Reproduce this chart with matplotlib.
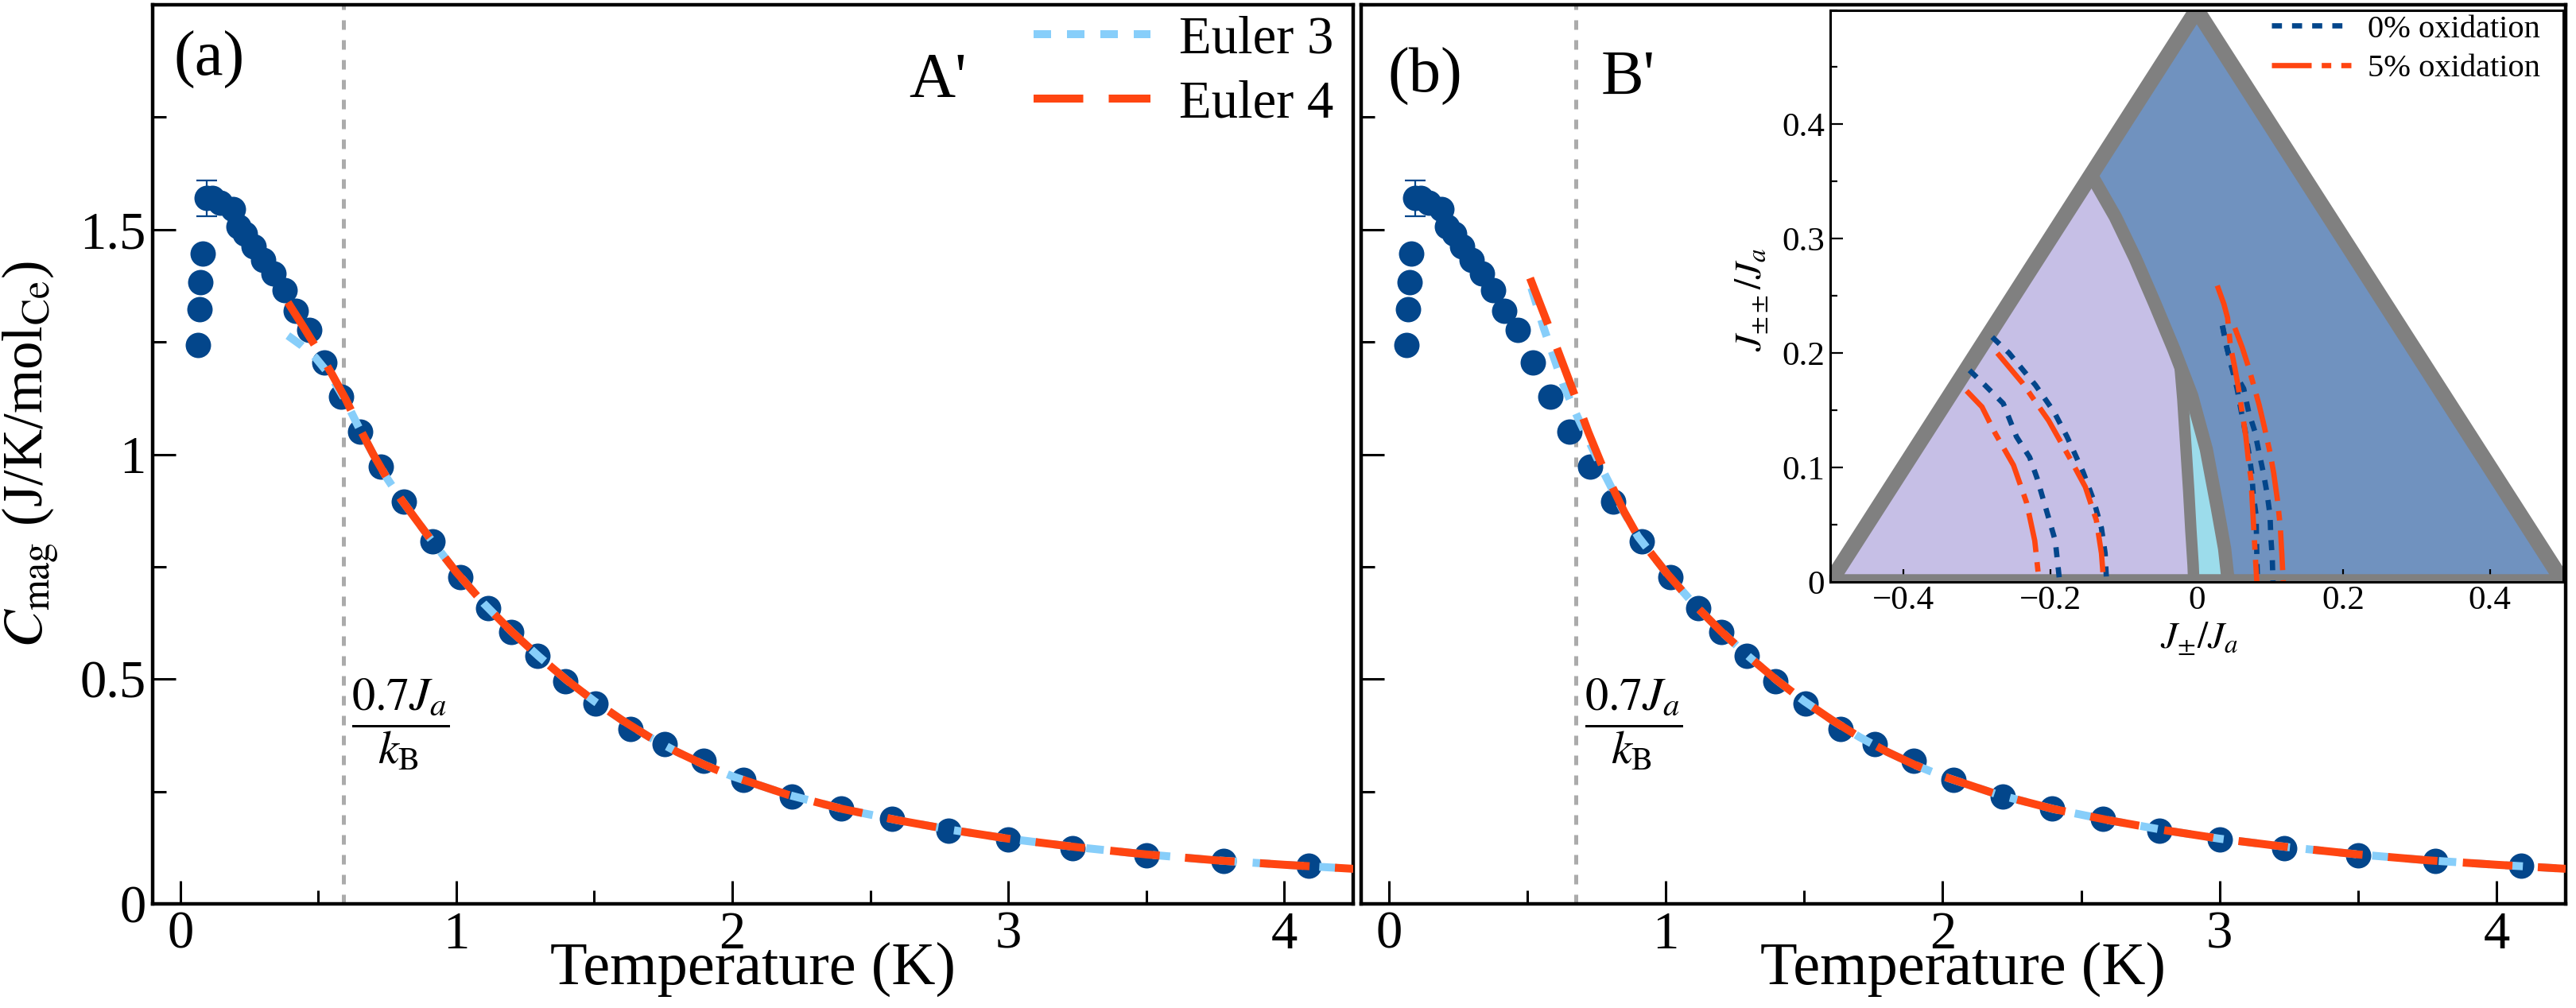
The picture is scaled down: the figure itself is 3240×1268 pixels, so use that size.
import matplotlib
matplotlib.use('Agg')
import matplotlib.pyplot as plt
from matplotlib.ticker import FixedLocator, FixedFormatter, MultipleLocator

plt.rcParams['font.family'] = ['Liberation Serif', 'DejaVu Serif']
plt.rcParams['mathtext.fontset'] = 'stix'
plt.rcParams['axes.unicode_minus'] = True

# ---------------- data ----------------
T_data = [0.064, 0.069, 0.074, 0.081, 0.095, 0.115, 0.145, 0.19, 0.21, 0.235,
          0.265, 0.30, 0.337, 0.377, 0.418, 0.467, 0.521, 0.583, 0.652, 0.726,
          0.81, 0.913, 1.016, 1.116, 1.20, 1.293, 1.396, 1.505, 1.63, 1.755,
          1.895, 2.04, 2.216, 2.394, 2.58, 2.783, 3.0, 3.234, 3.5, 3.78, 4.09]
C_data = [1.244, 1.323, 1.383, 1.447, 1.570, 1.570, 1.560, 1.546, 1.506, 1.490,
          1.462, 1.433, 1.403, 1.365, 1.319, 1.276, 1.205, 1.129, 1.051, 0.973,
          0.894, 0.807, 0.726, 0.657, 0.605, 0.551, 0.495, 0.446, 0.389, 0.356,
          0.318, 0.276, 0.239, 0.212, 0.190, 0.163, 0.143, 0.124, 0.108, 0.095, 0.085]
T_err = [0.095]
C_err = [1.570]
err_val = [0.04]

# Fits, panel (a)
Ta_euler3 = [0.39, 0.44, 0.49, 0.55, 0.60, 0.65, 0.70, 0.75, 0.80, 0.90, 1.0, 1.1,
             1.2, 1.3, 1.4, 1.5, 1.6, 1.7, 1.8, 1.9, 2.0, 2.2, 2.4, 2.6, 2.8, 3.0,
             3.25, 3.5, 3.75, 4.0, 4.25]
Ca_euler3 = [1.264, 1.242, 1.215, 1.170, 1.118, 1.056, 0.999, 0.946, 0.900, 0.817,
             0.738, 0.668, 0.606, 0.550, 0.498, 0.451, 0.409, 0.371, 0.338, 0.309,
             0.284, 0.243, 0.211, 0.186, 0.164, 0.145, 0.126, 0.110, 0.097, 0.087, 0.078]
Ta_euler4 = [0.39, 0.45, 0.50, 0.55, 0.60, 0.65, 0.70, 0.75, 0.80, 0.90, 1.0, 1.1,
             1.2, 1.3, 1.4, 1.5, 1.6, 1.7, 1.8, 1.9, 2.0, 2.2, 2.4, 2.6, 2.8, 3.0,
             3.25, 3.5, 3.75, 4.0, 4.25]
Ca_euler4 = [1.338, 1.280, 1.230, 1.178, 1.122, 1.058, 0.999, 0.946, 0.900, 0.817,
             0.738, 0.668, 0.606, 0.550, 0.498, 0.451, 0.409, 0.371, 0.338, 0.309,
             0.284, 0.243, 0.211, 0.186, 0.164, 0.145, 0.126, 0.110, 0.097, 0.087, 0.078]
# Fits, panel (b)
Tb_euler3 = [0.515, 0.56, 0.63, 0.68, 0.78, 0.85, 0.90, 1.0, 1.1, 1.2, 1.3, 1.4,
             1.5, 1.6, 1.7, 1.8, 1.9, 2.0, 2.2, 2.4, 2.6, 2.8, 3.0, 3.25, 3.5,
             3.75, 4.0, 4.25]
Cb_euler3 = [1.370, 1.280, 1.155, 1.085, 0.955, 0.870, 0.817, 0.738, 0.668, 0.606,
             0.550, 0.498, 0.451, 0.409, 0.371, 0.338, 0.309, 0.284, 0.243, 0.211,
             0.186, 0.164, 0.145, 0.126, 0.110, 0.097, 0.087, 0.078]
Tb_euler4 = [0.51, 0.574, 0.62, 0.666, 0.72, 0.77, 0.85, 0.90, 1.0, 1.1, 1.2, 1.3,
             1.4, 1.5, 1.6, 1.7, 1.8, 1.9, 2.0, 2.2, 2.4, 2.6, 2.8, 3.0, 3.25,
             3.5, 3.75, 4.0, 4.25]
Cb_euler4 = [1.392, 1.290, 1.215, 1.140, 1.050, 0.975, 0.872, 0.817, 0.738, 0.668,
             0.606, 0.550, 0.498, 0.451, 0.409, 0.371, 0.338, 0.309, 0.284, 0.243,
             0.211, 0.186, 0.164, 0.145, 0.126, 0.110, 0.097, 0.087, 0.078]

T_line = [0.59, 0.674]          # 0.7 J_a / k_B for panels a and b
panel_tags = ['(a)', '(b)']
model_tags = ["A'", "B'"]
legend_labels = ['Euler 3', 'Euler 4']

x_ticks = [0, 1, 2, 3, 4]
x_tick_labels = ['0', '1', '2', '3', '4']
y_ticks = [0, 0.5, 1, 1.5]
y_tick_labels = ['0', '0.5', '1', '1.5']

# Inset: phase diagram
tri_x = [-0.5, 0.0, 0.5]
tri_y = [0.0, 0.5, 0.0]
bnd_x = [-0.144, -0.111, -0.084, -0.057, -0.031, -0.007, 0.013, 0.028, 0.038, 0.043]
bnd_y = [0.356, 0.319, 0.283, 0.243, 0.203, 0.163, 0.116, 0.065, 0.029, 0.0]
sec_x = [-0.023, -0.019, -0.015, -0.011, -0.008, -0.005, -0.004]
sec_y = [0.19, 0.16, 0.12, 0.08, 0.045, 0.015, 0.0]

b1_x = [-0.310, -0.289, -0.264, -0.246, -0.228, -0.218, -0.203, -0.193, -0.187]
b1_y = [0.185, 0.172, 0.156, 0.127, 0.109, 0.091, 0.058, 0.036, 0.0]
r1_x = [-0.314, -0.293, -0.275, -0.250, -0.232, -0.221, -0.215]
r1_y = [0.167, 0.153, 0.130, 0.102, 0.069, 0.036, 0.0]
b2_x = [-0.279, -0.256, -0.220, -0.195, -0.177, -0.155, -0.141, -0.130, -0.125, -0.123]
b2_y = [0.214, 0.200, 0.172, 0.149, 0.127, 0.096, 0.072, 0.047, 0.025, 0.0]
r2_x = [-0.272, -0.238, -0.202, -0.173, -0.152, -0.137, -0.130, -0.127]
r2_y = [0.200, 0.174, 0.141, 0.108, 0.083, 0.054, 0.025, 0.0]
b3_x = [0.035, 0.041, 0.048, 0.055, 0.061, 0.066, 0.071, 0.075, 0.077, 0.081, 0.082, 0.083]
b3_y = [0.224, 0.205, 0.187, 0.169, 0.148, 0.132, 0.113, 0.095, 0.077, 0.058, 0.021, 0.0]
b4_x = [0.035, 0.041, 0.048, 0.064, 0.071, 0.079, 0.085, 0.091, 0.096, 0.100, 0.101, 0.103, 0.104]
b4_y = [0.224, 0.205, 0.187, 0.169, 0.148, 0.132, 0.113, 0.095, 0.077, 0.058, 0.040, 0.021, 0.0]
r3_x = [0.028, 0.037, 0.042, 0.046, 0.052, 0.057, 0.062, 0.067, 0.070, 0.074, 0.076, 0.078, 0.080, 0.082]
r3_y = [0.259, 0.243, 0.231, 0.206, 0.187, 0.169, 0.148, 0.127, 0.109, 0.090, 0.067, 0.044, 0.021, 0.0]
r4_x = [0.052, 0.062, 0.071, 0.078, 0.085, 0.092, 0.100, 0.105, 0.110, 0.114, 0.116, 0.118]
r4_y = [0.222, 0.205, 0.187, 0.171, 0.155, 0.136, 0.113, 0.095, 0.072, 0.048, 0.025, 0.0]

inset_legend_labels = ['0% oxidation', '5% oxidation']
inset_x_ticks = [-0.4, -0.2, 0, 0.2, 0.4]
inset_x_tick_labels = ['\u22120.4', '\u22120.2', '0', '0.2', '0.4']
inset_y_ticks = [0, 0.1, 0.2, 0.3, 0.4]
inset_y_tick_labels = ['0', '0.1', '0.2', '0.3', '0.4']

# ---------------- styles ----------------
DOT = '#03468B'
RED = '#FF4511'
LBLUE = '#87CEFA'
LAV = '#C6BFE6'
BLU = '#7092BF'
CYA = '#9CDCEB'
GRY = '#808080'

W, H = 3240, 1268
fig = plt.figure(figsize=(W / 200, H / 200), dpi=200)

def px_axes(l, r, b, t):
    return [l / W, (H - b) / H, (r - l) / W, (b - t) / H]

ax_a = fig.add_axes(px_axes(192, 1702, 1137, 6))
ax_b = fig.add_axes(px_axes(1712, 3227, 1137, 6))

for i, ax in enumerate([ax_a, ax_b]):
    ax.plot(T_data, C_data, 'o', color=DOT, ms=11.5, mec='none', zorder=2)
    ax.errorbar(T_err, C_err, yerr=err_val, fmt='none', ecolor=DOT,
                elinewidth=0.8, capsize=4.7, capthick=0.8, zorder=2)
    T3, C3, T4, C4 = ((Ta_euler3, Ca_euler3, Ta_euler4, Ca_euler4) if i == 0
                      else (Tb_euler3, Cb_euler3, Tb_euler4, Cb_euler4))
    ax.plot(T3, C3, color=LBLUE, lw=3.6, dashes=(2.2, 2.0), zorder=3,
            label=legend_labels[0])
    ax.plot(T4, C4, color=RED, lw=3.6, dashes=(6.25, 3.2), zorder=4,
            label=legend_labels[1])
    ax.axvline(T_line[i], color='#ABABAB', lw=1.8, dashes=(2.4, 2.6), zorder=1)
    ax.set_xlim(-0.1, 4.25)
    ax.set_ylim(0, 2.0)
    ax.xaxis.set_major_locator(FixedLocator(x_ticks))
    ax.xaxis.set_major_formatter(FixedFormatter(x_tick_labels))
    ax.xaxis.set_minor_locator(MultipleLocator(0.5))
    ax.yaxis.set_major_locator(FixedLocator(y_ticks))
    ax.yaxis.set_minor_locator(MultipleLocator(0.25))
    if i == 0:
        ax.yaxis.set_major_formatter(FixedFormatter(y_tick_labels))
    else:
        ax.set_yticklabels([])
    ax.tick_params(which='both', direction='in', top=False, right=False,
                   labelsize=24, width=1.1)
    ax.tick_params(axis='x', which='major', length=10.4, pad=3.2)
    ax.tick_params(axis='y', which='major', length=10.4, pad=2.9)
    ax.tick_params(which='minor', length=6)
    for s in ax.spines.values():
        s.set_linewidth(1.6)
    ax.set_xlabel('Temperature (K)', fontsize=27.5)
    ax.xaxis.set_label_coords(0.5, -0.042)
    ax.text(T_line[i] + 0.21, 0.40, r'$\dfrac{0.7J_a}{k_\mathrm{B}}$',
            fontsize=21, ha='center', va='center')

ax_a.set_ylabel(r'$C_{\rm mag}$ (J/K/mol$_{\rm Ce}$)', fontsize=25.5)
ax_a.yaxis.set_label_coords(-0.077, 0.5)

ax_a.text(0.105, 1.878, panel_tags[0], fontsize=29, ha='center', va='center')
ax_b.text(0.13, 1.84, panel_tags[1], fontsize=29, ha='center', va='center')
ax_a.text(2.746, 1.83, model_tags[0], fontsize=29, ha='center', va='center')
ax_b.text(0.865, 1.835, model_tags[1], fontsize=29, ha='center', va='center')

ax_a.legend(loc='upper left', bbox_to_anchor=(0.7338, 0.988), frameon=False,
            fontsize=24, borderpad=0, borderaxespad=0, handlelength=2.2,
            handletextpad=0.55, labelspacing=0.3)

# ---------------- inset ----------------
axi = fig.add_axes(px_axes(2302, 3224, 732, 12.5))
axi.set_facecolor('white')
lav_x = [tri_x[0]] + bnd_x + [bnd_x[-1]]
lav_y = [tri_y[0]] + bnd_y + [0.0]
axi.fill(lav_x, lav_y, color=LAV, lw=0, zorder=1)
blu_x = [bnd_x[0], tri_x[1], tri_x[2]] + bnd_x[::-1]
blu_y = [bnd_y[0], tri_y[1], tri_y[2]] + bnd_y[::-1]
axi.fill(blu_x, blu_y, color=BLU, lw=0, zorder=1)
low = [k for k in range(len(bnd_y)) if bnd_y[k] < sec_y[0]]
cya_x = sec_x + [bnd_x[k] for k in low[::-1]]
cya_y = sec_y + [bnd_y[k] for k in low[::-1]]
axi.fill(cya_x, cya_y, color=CYA, lw=0, zorder=1)
axi.fill(tri_x, tri_y, facecolor='none', edgecolor=GRY, lw=7.0, zorder=2,
         joinstyle='miter')
axi.plot(bnd_x, bnd_y, color=GRY, lw=6.0, zorder=2, solid_capstyle='butt')
axi.plot(sec_x, sec_y, color=GRY, lw=5.2, zorder=2, solid_capstyle='butt')

for (bx, by) in [(b1_x, b1_y), (b2_x, b2_y), (b3_x, b3_y), (b4_x, b4_y)]:
    axi.plot(bx, by, color=DOT, lw=2.4, dashes=(1.9, 1.9), zorder=3)
for (rx, ry) in [(r1_x, r1_y), (r2_x, r2_y), (r3_x, r3_y), (r4_x, r4_y)]:
    axi.plot(rx, ry, color=RED, lw=2.4, dashes=(7.5, 1.9, 1.8, 1.9), zorder=3)

hb, = axi.plot([], [], color=DOT, lw=2.4, dashes=(1.9, 1.9))
hr, = axi.plot([], [], color=RED, lw=2.4, dashes=(7.5, 1.9, 1.8, 1.9))
axi.legend([hb, hr], inset_legend_labels, loc='upper left',
           bbox_to_anchor=(0.602, 0.992), frameon=False, fontsize=14.6,
           borderpad=0, borderaxespad=0, handlelength=2.47,
           handletextpad=0.52, labelspacing=0.3)

axi.set_xlim(-0.5, 0.5)
axi.set_ylim(0, 0.5)
axi.xaxis.set_major_locator(FixedLocator(inset_x_ticks))
axi.xaxis.set_major_formatter(FixedFormatter(inset_x_tick_labels))
axi.xaxis.set_minor_locator(MultipleLocator(0.1))
axi.yaxis.set_major_locator(FixedLocator(inset_y_ticks))
axi.yaxis.set_major_formatter(FixedFormatter(inset_y_tick_labels))
axi.yaxis.set_minor_locator(MultipleLocator(0.05))
axi.tick_params(which='both', direction='in', top=False, right=False,
                labelsize=15.5, width=0.8)
axi.tick_params(which='major', length=5.8)
axi.tick_params(axis='x', which='major', pad=1.5)
axi.tick_params(axis='y', which='major', pad=2.5)
axi.tick_params(which='minor', length=3.2)
for s in axi.spines.values():
    s.set_linewidth(1.1)
    s.set_zorder(5)
axi.set_xlabel(r'$J_{\pm}/J_a$', fontsize=17)
axi.xaxis.set_label_coords(0.503, -0.067)
axi.set_ylabel(r'$J_{\pm\pm}/J_a$', fontsize=17)
axi.yaxis.set_label_coords(-0.081, 0.494)

fig.savefig('out.png', dpi=200)
